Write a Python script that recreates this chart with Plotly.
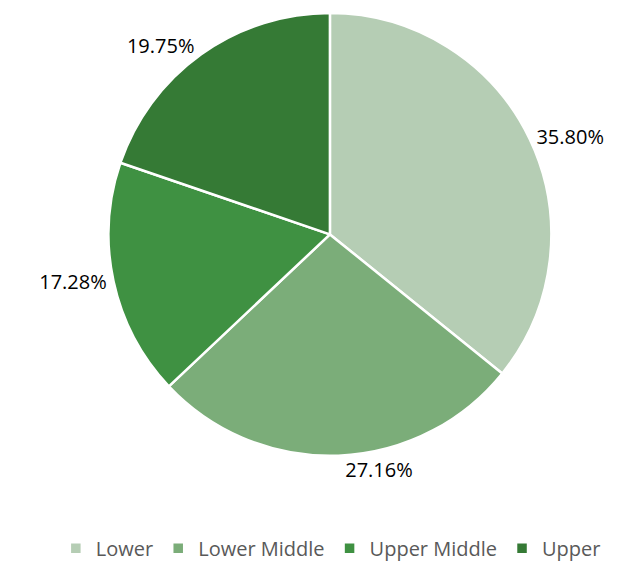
import plotly.graph_objects as go

categories = ["Lower", "Lower Middle", "Upper Middle", "Upper"]
shares = [35.80, 27.16, 17.28, 19.75]
labels_txt = ["35.80%", "27.16%", "17.28%", "19.75%"]
colors = ["#B5CDB4", "#7BAD79", "#3F9142", "#357A35"]

fig = go.Figure()
fig.add_trace(go.Pie(
    labels=categories,
    values=shares,
    text=labels_txt,
    texttemplate="%{text}",
    textposition="outside",
    textfont=dict(size=20, color="#000000", family="Open Sans"),
    marker=dict(colors=colors, line=dict(color="#FFFFFF", width=2.5)),
    sort=False,
    direction="clockwise",
    rotation=0,
    domain=dict(x=[0.136, 0.901], y=[0.205, 1.0]),
    hoverinfo="label+text",
))

fig.update_layout(
    width=628, height=562,
    paper_bgcolor="#FFFFFF", plot_bgcolor="#FFFFFF",
    margin=dict(l=0, r=0, t=0, b=0),
    showlegend=True,
    legend=dict(
        orientation="h", x=0.52, xanchor="center", y=0.004, yanchor="bottom",
        font=dict(size=20, color="#595959", family="Open Sans"),
        itemwidth=30,
    ),
)

fig.write_html("out.html")
